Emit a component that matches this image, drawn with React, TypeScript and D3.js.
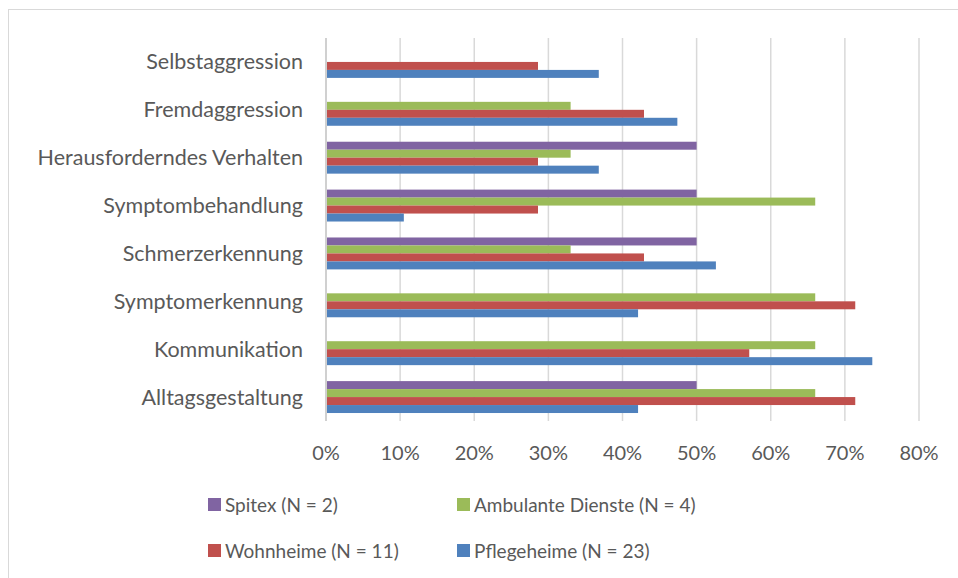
import React from 'react';
import * as d3 from 'd3';

// categories from top to bottom
const categories = [
  'Selbstaggression',
  'Fremdaggression',
  'Herausforderndes Verhalten',
  'Symptombehandlung',
  'Schmerzerkennung',
  'Symptomerkennung',
  'Kommunikation',
  'Alltagsgestaltung',
];

const seriesNames = ['Spitex (N = 2)', 'Ambulante Dienste (N = 4)', 'Wohnheime (N = 11)', 'Pflegeheime (N = 23)'];
const seriesColors = ['#8064A2', '#9BBB59', '#C0504D', '#4F81BD'];

// values in %, same order as categories
const spitex = [0, 0, 50, 50, 50, 0, 0, 50];
const ambulant = [0, 33, 33, 66, 33, 66, 66, 66];
const wohnheime = [28.6, 42.9, 28.6, 28.6, 42.9, 71.4, 57.1, 71.4];
const pflegeheime = [36.8, 47.4, 36.8, 10.5, 52.6, 42.1, 73.7, 42.1];

const ticks = [0, 10, 20, 30, 40, 50, 60, 70, 80];

const W = 958;
const H = 578;
const font = 'Lato, "Open Sans", sans-serif';
const textColor = '#595959';

export default function App() {
  const series = [spitex, ambulant, wohnheime, pflegeheime];
  const x = d3.scaleLinear().domain([0, 80]).range([326, 919]);
  const y = d3.scaleBand<string>().domain(categories).range([38, 421]).paddingInner(1 / 3).paddingOuter(1 / 6);
  const inner = d3.scaleBand<number>().domain([0, 1, 2, 3]).range([0, y.bandwidth()]);

  const legendPos = [
    { x: 208, y: 498 },
    { x: 457, y: 498 },
    { x: 208, y: 544 },
    { x: 457, y: 544 },
  ];

  return (
    <svg width={W} height={H} style={{ position: 'absolute', left: 0, top: 0, background: '#fff' }}>
      <rect x={8.5} y={9.5} width={W} height={H} fill="#fff" stroke="#D9D9D9" />
      {ticks.slice(1).map((t) => (
        <line key={t} x1={x(t)} x2={x(t)} y1={38} y2={421} stroke="#D9D9D9" strokeWidth={1.5} />
      ))}
      {categories.map((c, ci) =>
        series.map((s, si) =>
          s[ci] > 0 ? (
            <rect
              key={c + si}
              x={x(0)}
              y={(y(c) as number) + (inner(si) as number)}
              width={x(s[ci]) - x(0)}
              height={inner.bandwidth()}
              fill={seriesColors[si]}
            />
          ) : null
        )
      )}
      <line x1={x(0)} x2={x(0)} y1={38} y2={421} stroke="#D0D0D0" strokeWidth={2} />
      {categories.map((c) => (
        <text
          key={c}
          x={303}
          y={(y(c) as number) + y.bandwidth() / 2}
          dy="0.35em"
          textAnchor="end"
          fontFamily={font}
          fontSize={21.5}
          fill={textColor}
        >
          {c}
        </text>
      ))}
      {ticks.map((t) => (
        <text key={t} x={x(t)} y={460} textAnchor="middle" fontFamily={font} fontSize={20} fill={textColor}>
          {t + '%'}
        </text>
      ))}
      {seriesNames.map((n, i) => (
        <g key={n}>
          <rect x={legendPos[i].x} y={legendPos[i].y} width={13} height={13} fill={seriesColors[i]} />
          <text x={legendPos[i].x + 17} y={legendPos[i].y + 14} fontFamily={font} fontSize={19} fill={textColor}>
            {n}
          </text>
        </g>
      ))}
    </svg>
  );
}
